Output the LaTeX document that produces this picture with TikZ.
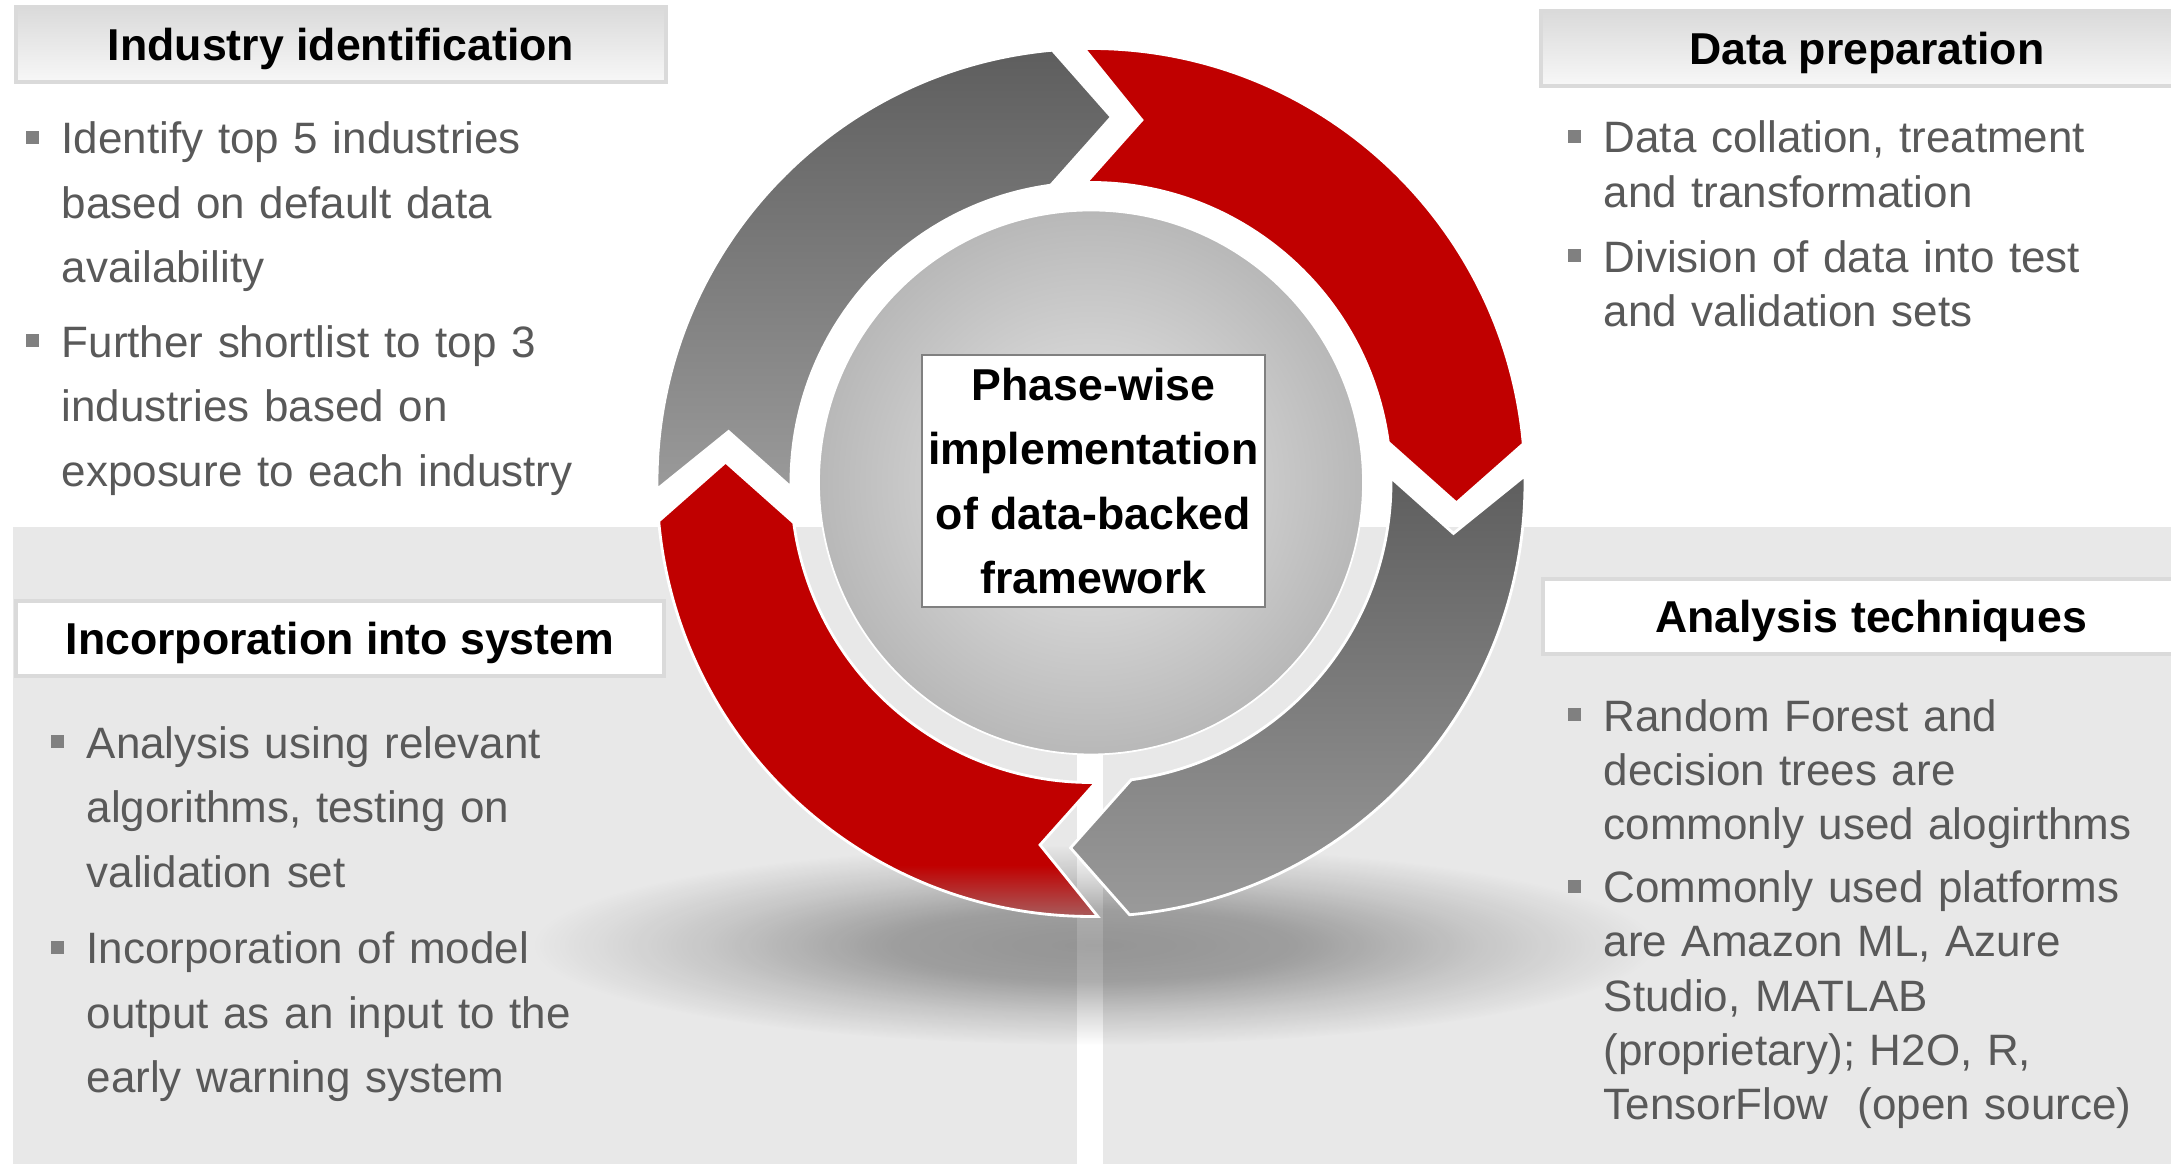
\documentclass[tikz,border=0pt]{standalone}
\usepackage{fontspec}
\setmainfont{Liberation Sans}
\usetikzlibrary{fadings}

\definecolor{stepred}{RGB}{192,0,0}
\definecolor{fadered}{RGB}{166,98,98}
\definecolor{panelgray}{RGB}{232,232,232}
\definecolor{bodygray}{RGB}{89,89,89}
\definecolor{bulletgray}{RGB}{128,128,128}
\definecolor{ringdark}{RGB}{94,94,94}
\definecolor{ringlight}{RGB}{154,154,154}
\definecolor{hubcenter}{RGB}{234,234,234}
\definecolor{hubedge}{RGB}{184,184,184}
\definecolor{headtop}{RGB}{218,218,218}
\definecolor{headline}{RGB}{218,218,218}

% red arrow that fades out at its lower end
\pgfdeclareverticalshading{redreflect}{100bp}{color(0bp)=(fadered); color(25bp)=(fadered); color(31bp)=(stepred); color(100bp)=(stepred)}
% soft shadow under the ring
\pgfdeclareradialshading{shadowshape}{\pgfpointorigin}{color(0bp)=(white); color(9bp)=(white!88!black); color(17bp)=(white!40!black); color(25bp)=(black); color(50bp)=(black)}
\pgfdeclarefading{softshadow}{\pgfuseshading{shadowshape}}

\tikzset{
  redarrow/.style={fill=stepred},
  grayarrow/.style={top color=ringdark, bottom color=ringlight},
  fadearrow/.style={shade, shading=redreflect},
  bodytext/.style={text=bodygray, font=\fontsize{12.5}{18.3}\selectfont,
    text width=9cm, align=left, inner sep=0pt, anchor=base west},
  bodytight/.style={bodytext, font=\fontsize{12.5}{15.4}\selectfont},
  headshade/.style={draw=headline, line width=1.1pt, top color=headtop, bottom color=white!97!black,
    minimum height=0.75cm, inner sep=0pt, text depth=0pt, font=\bfseries\fontsize{12.7}{15}\selectfont},
  headplain/.style={draw=headline, line width=1.1pt, fill=white,
    minimum height=0.75cm, inner sep=0pt, text depth=0pt, font=\bfseries\fontsize{12.7}{15}\selectfont},
  phasebox/.style={draw=bulletgray, line width=0.6pt, fill=white, align=center, inner sep=0pt,
    minimum width=3.43cm, minimum height=2.52cm, font=\bfseries\fontsize{12.7}{18.3}\selectfont}
}

\newcommand{\bulletsq}[1]{\fill[bulletgray] ([shift={(-35,10)}]#1.base west) rectangle +(13,13);}

\begin{document}
\begin{tikzpicture}[x=0.01cm, y=0.01cm]
  \useasboundingbox (0,0) rectangle (2171,1164);
  \fill[white] (0,0) rectangle (2171,1164);

  % lower panels
  \fill[panelgray] (13,0) rectangle (1077,637);
  \fill[panelgray] (1103,0) rectangle (2171,637);

  % shadow
  \fill[black, fill opacity=0.36, path fading=softshadow] (1094,219) ellipse [x radius=560, y radius=100];

  % ring of four arrows
  \coordinate (C) at (1091,681.5);
  \foreach \rot/\look in {0/redarrow, -90/grayarrow, -180/fadearrow, -270/grayarrow}
    \path[\look, draw=white, line width=0.8pt]
      ([shift={(\rot+90.9:434)}]C) arc[start angle=\rot+90.9, end angle=\rot+5.1, radius=434]
      -- ([shift={(\rot-3.2:366)}]C) -- ([shift={(\rot+7.7:300)}]C)
      arc[start angle=\rot+7.7, end angle=\rot+90.9, radius=300]
      -- ([shift={(\rot+82:366)}]C) -- cycle;

  % hub
  \shade[inner color=hubcenter, outer color=hubedge, draw=white, line width=0.5pt] (C) circle[radius=272];
  \node[phasebox] (phase) at (1093.5,683) {Phase-wise\\implementation\\of data-backed\\framework};

  % headings
  \node[headshade, minimum width=6.5cm] (hident) at (341,1119.5) {Industry identification};
  \node[headshade, minimum width=6.52cm] (hprep) at (1867,1115.5) {Data preparation};
  \node[headplain, minimum width=6.47cm] (hinc) at (340,525.5) {Incorporation into system};
  \node[headplain, minimum width=6.56cm] (htech) at (1871,547.5) {Analysis techniques};

  % bullet texts
  \node[bodytext] (ident1) at (61,1010) {Identify top 5 industries\\based on default data\\availability};
  \node[bodytext] (ident2) at (61,806.6) {Further shortlist to top 3\\industries based on\\exposure to each industry};
  \node[bodytext] (inc1) at (86,405.5) {Analysis using relevant\\algorithms, testing on\\validation set};
  \node[bodytext] (inc2) at (86,200.2) {Incorporation of model\\output as an input to the\\early warning system};
  \node[bodytight] (prep1) at (1603,1011) {Data collation, treatment\\and transformation};
  \node[bodytight] (prep2) at (1603,891.5) {Division of data into test\\and validation sets};
  \node[bodytight] (tech1) at (1603,432.6) {Random Forest and\\decision trees are\\commonly used alogirthms};
  \node[bodytight] (tech2) at (1603,261.2) {Commonly used platforms\\are Amazon ML, Azure\\Studio, MATLAB\\(proprietary); H2O, R,\\TensorFlow\ \ (open source)};

  \foreach \b in {ident1, ident2, inc1, inc2, prep1, prep2, tech1, tech2}
    {\bulletsq{\b}}
\end{tikzpicture}
\end{document}
